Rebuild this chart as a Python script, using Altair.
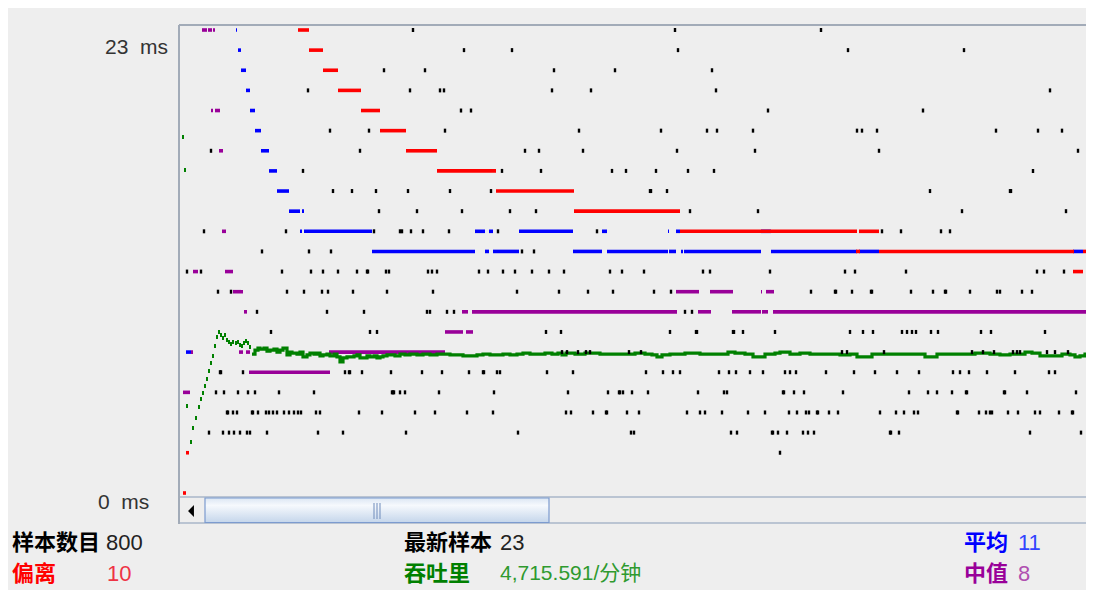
import altair as alt
import pandas as pd

# ---------------- data ----------------
# x = sample number (one pixel column per sample), y = response time in ms
black_rows = {
    23: [233, 495, 641],
    22: [284, 332, 498, 668, 784],
    21: [204, 245, 374, 435, 532],
    20: [128, 230, 260, 264, 372, 411, 536, 870],
    19: [281, 291, 588, 743],
    18: [150, 189, 265, 399, 481, 527, 537, 573, 677, 682, 697, 816, 858, 882],
    17: [31, 180, 345, 359, 403, 497, 575, 699, 898],
    16: [123, 322, 361, 432, 446, 476, 508, 534, 853],
    15: [153, 172, 196, 228, 270, 311, 470, 471, 487, 750, 830, 831],
    14: [199, 237, 282, 330, 356, 510, 578, 782, 886],
    13: [24, 106, 194, 220, 222, 231, 243, 269, 318, 417, 702, 721, 761, 770],
    12: [82, 129, 151, 342, 354],
    11: [7, 21, 102, 131, 143, 158, 177, 187, 188, 206, 209, 248, 252, 257, 299, 308,
         323, 335, 352, 369, 384, 430, 442, 464, 523, 530, 590, 665, 675, 726, 857, 864, 884],
    10: [38, 51, 107, 124, 142, 148, 173, 207, 253, 337, 379, 408, 433, 474, 491, 631,
         655, 656, 672, 691, 692, 731, 753, 765, 766, 790, 817, 820, 842, 852],
    9: [77, 147, 184, 247, 250, 267, 274, 505, 512],
    8: [91, 190, 197, 366, 381, 490, 516, 517, 553, 554, 563, 595, 670, 683, 693, 722,
        727, 732, 736, 751, 758, 801, 811, 865, 908, 909],
    7: [382, 387, 398, 406, 410, 449, 461, 662, 667, 704, 792, 803, 814, 833, 837, 840,
        867, 875, 888],
    6: [40, 41, 63, 165, 169, 170, 182, 211, 242, 262, 289, 303, 304, 317, 320, 367, 393,
        466, 483, 493, 500, 539, 549, 556, 570, 583, 605, 610, 616, 646, 674, 695, 717,
        739, 773, 780, 789, 807, 835, 869, 875],
    5: [36, 44, 58, 68, 75, 99, 134, 212, 213, 214, 220, 225, 259, 314, 388, 428, 439,
        440, 443, 452, 468, 518, 544, 547, 603, 604, 614, 624, 663, 729, 748, 757, 772,
        786, 787, 824, 825, 847, 896, 913],
    4: [47, 48, 53, 57, 72, 73, 78, 86, 89, 93, 97, 104, 109, 114, 118, 121, 136, 140,
        179, 202, 235, 255, 287, 313, 386, 391, 413, 426, 427, 447, 459, 507, 520, 525,
        542, 568, 585, 609, 617, 626, 629, 637, 638, 649, 658, 700, 716, 724, 734, 738,
        777, 778, 799, 806, 810, 812, 828, 838, 855, 860, 879, 892, 893, 912],
    3: [29, 43, 49, 54, 60, 67, 70, 87, 138, 163, 226, 338, 451, 454, 551, 557, 592, 593,
        598, 607, 623, 628, 634, 710, 711, 719, 850, 901],
    2: [600],
}

# runs of the running statistics: (first sample, last sample, ms)
average_runs = [
    (6, 10, 7), (56, 56, 23), (58, 60, 22), (61, 65, 21), (66, 69, 20), (70, 74, 19),
    (75, 80, 18), (81, 88, 17), (89, 96, 16), (97, 108, 15), (109, 119, 14),
    (120, 121, 13), (122, 123, 14), (124, 191, 13), (192, 294, 12), (295, 304, 13),
    (305, 308, 12), (309, 312, 13), (313, 338, 12), (339, 392, 13), (393, 421, 12),
    (422, 426, 13), (427, 487, 12), (488, 488, 13), (489, 495, 12), (496, 499, 13),
    (501, 502, 12), (504, 580, 12), (581, 590, 13), (591, 676, 12), (679, 698, 12),
    (893, 902, 12),
]
median_runs = [
    (3, 9, 5), (11, 12, 7), (13, 17, 11), (22, 26, 23), (28, 31, 23), (33, 34, 23),
    (31, 32, 19), (35, 39, 19), (39, 42, 17), (42, 45, 13), (45, 52, 11), (53, 60, 10),
    (61, 62, 10), (59, 62, 7), (64, 66, 9), (66, 69, 7), (69, 149, 6), (149, 264, 7),
    (265, 282, 8), (282, 287, 9), (286, 292, 8), (292, 496, 9), (496, 518, 10),
    (518, 530, 9), (530, 552, 10), (552, 580, 9), (581, 581, 10), (582, 587, 9),
    (586, 593, 10), (593, 914, 9),
]
deviation_runs = [
    (3, 5, 0), (6, 8, 2), (118, 128, 23), (129, 142, 22), (143, 157, 21), (158, 180, 20),
    (181, 199, 19), (200, 225, 18), (226, 256, 17), (257, 315, 16), (316, 393, 15),
    (394, 499, 14), (500, 676, 13), (676, 679, 12), (679, 698, 13), (699, 893, 12),
    (893, 902, 11), (903, 914, 12),
]
# throughput (drawn on the same vertical scale)
throughput_start_s = [3, 5, 7, 11, 13, 16, 19, 21, 23, 25, 27, 29, 31, 33, 35, 37, 39, 41,
                      43, 45, 47, 49, 51, 53, 56, 58, 60, 62, 64, 66, 68, 70]
throughput_start_v = [17.69, 16.05, 4.32, 2.53, 3.23, 3.73, 4.27, 4.67, 4.97, 5.32, 5.66,
                      6.06, 6.46, 6.81, 7.30, 7.75, 8.00, 7.85, 7.70, 7.85, 7.60, 7.50,
                      7.40, 7.50, 7.45, 7.50, 7.35, 7.30, 7.45, 7.55, 7.45, 7.25]
throughput_s = [72, 75, 78, 80, 84, 87, 90, 94, 97, 100, 103, 107, 110, 112, 117, 120, 123,
                127, 130, 134, 137, 140, 143, 147, 150, 154, 157, 160, 163, 167, 170, 174,
                177, 180, 183, 187, 190, 194, 197, 200, 203, 207, 210, 215, 220, 225, 230,
                237, 243, 250, 257, 263, 270, 277, 283, 290, 297, 303, 310, 317, 323, 330,
                337, 343, 350, 357, 365, 372, 378, 382, 386, 395, 405, 420, 440, 455, 465,
                472, 477, 482, 490, 505, 520, 535, 548, 555, 565, 573, 580, 585, 595, 600,
                610, 620, 630, 650, 660, 670, 677, 687, 692, 705, 720, 735, 745, 752, 757,
                780, 795, 810, 820, 830, 845, 852, 860, 877, 882, 890, 895, 900, 905, 914]
throughput_v = [6.90, 7.10, 7.20, 7.15, 7.20, 7.05, 7.10, 7.15, 7.00, 7.10, 7.20, 6.86,
                7.00, 6.95, 6.90, 7.00, 6.76, 6.86, 6.95, 6.90, 6.95, 6.81, 6.86, 6.90,
                6.81, 6.90, 6.76, 6.51, 6.71, 6.76, 6.76, 6.81, 6.86, 6.71, 6.71, 6.81,
                6.76, 6.81, 6.71, 6.76, 6.81, 6.86, 6.86, 6.81, 6.90, 6.86, 6.90, 6.86,
                6.90, 6.86, 6.90, 6.90, 6.86, 6.86, 6.81, 6.81, 6.86, 6.90, 6.86, 6.86,
                6.90, 6.86, 6.90, 6.95, 6.90, 6.90, 6.95, 6.90, 6.95, 6.86, 6.95, 6.90,
                6.95, 6.90, 6.90, 6.95, 6.90, 6.86, 6.76, 6.86, 6.90, 6.95, 6.90, 6.90,
                7.00, 6.95, 6.90, 6.76, 6.76, 6.90, 6.95, 7.00, 6.90, 6.95, 6.90, 6.90,
                6.86, 6.90, 6.76, 6.76, 6.90, 6.90, 6.90, 6.90, 6.76, 6.76, 6.90, 6.90,
                6.95, 6.90, 6.86, 6.90, 7.00, 6.95, 6.81, 6.81, 6.90, 6.86, 6.76, 6.81,
                6.90, 6.90]

axis_labels = ["23\u00a0\u00a0ms", "0\u00a0\u00a0ms"]
stat_names = ["样本数目", "偏离", "最新样本", "吞吐里", "平均", "中值"]
stat_values = ["800", "10", "23", "4,715.591/分钟", "11", "8"]

# ---------------- chart ----------------
W, H = 1078, 582
BG = "#eeeeee"
LATIN = "'Liberation Sans', Arial, 'Noto Sans CJK SC', sans-serif"
CJK = "'Noto Sans CJK SC', sans-serif"

xs = alt.Scale(domain=[0, 914], range=[172, 1086], nice=False, zero=False)
ys = alt.Scale(domain=[0, 23], range=[485, 22], nice=False, zero=False)

blk = pd.DataFrame([(s, ms) for ms, row in black_rows.items() for s in row], columns=["s", "v"])


def runs(rs, color, width=3.6):
    df = pd.DataFrame(rs, columns=["s0", "s1", "v"])
    return alt.Chart(df).transform_calculate(e="datum.s1 + 1").mark_rule(
        color=color, strokeWidth=width, strokeCap="butt"
    ).encode(
        x=alt.X("s0:Q", scale=xs, axis=None),
        x2="e:Q",
        y=alt.Y("v:Q", scale=ys, axis=None),
    )


median_layer = runs(median_runs, "#990099")
avg_layer = runs(average_runs, "#0000ff")
dev_layer = runs(deviation_runs, "#ff0000")

tp_start = alt.Chart(pd.DataFrame({"s": throughput_start_s, "v": throughput_start_v})).mark_tick(
    orient="vertical", thickness=2, size=4, color="#008000", opacity=1
).encode(x=alt.X("s:Q", scale=xs, axis=None), y=alt.Y("v:Q", scale=ys, axis=None))

tp_line = alt.Chart(pd.DataFrame({"s": throughput_s, "v": throughput_v})).mark_line(
    color="#008000", strokeWidth=3.2, interpolate="step-after"
).encode(x=alt.X("s:Q", scale=xs, axis=None), y=alt.Y("v:Q", scale=ys, axis=None))

dots = alt.Chart(blk).mark_tick(
    orient="vertical", thickness=2.4, size=4, color="#000000", opacity=1
).encode(x=alt.X("s:Q", scale=xs, axis=None), y=alt.Y("v:Q", scale=ys, axis=None))

one = pd.DataFrame({"k": [0]})


def rule(x1, y1, x2, y2, color, w=1.0):
    return alt.Chart(one).mark_rule(color=color, strokeWidth=w).encode(
        x=alt.value(x1), x2=alt.value(x2), y=alt.value(y1), y2=alt.value(y2))


def txt(t, x, y, color, bold=False, font=LATIN, size=22):
    return alt.Chart(one).mark_text(
        text=t, align="left", baseline="middle", fontSize=size, font=font,
        fontWeight="bold" if bold else "normal", color=color
    ).encode(x=alt.value(x), y=alt.value(y))


frame = "#a2abb8"
decor = [
    rule(171, 17, 1086, 17, frame, 2),
    rule(171, 17, 171, 516, frame, 2),
    rule(172, 489, 1086, 489, "#a9b6c8", 1.5),
    rule(172, 515, 1086, 515, "#a9b6c8", 1.5),
]
thumb = alt.Chart(one).mark_rect(
    fill=alt.LinearGradient(
        gradient="linear", x1=0, x2=0, y1=0, y2=1,
        stops=[alt.GradientStop(color="#dbe6f3", offset=0),
               alt.GradientStop(color="#f6f9fd", offset=0.3),
               alt.GradientStop(color="#c5d6eb", offset=1)]),
    stroke="#7c9bcf", strokeWidth=1.2
).encode(x=alt.value(197), x2=alt.value(541), y=alt.value(490), y2=alt.value(514.5))
grip = [rule(x, 495, x, 511, "#6f8bbb", 1) for x in (366, 369, 372)]
arrow = alt.Chart(one).mark_point(
    shape="M 0.5 -1 L -0.5 0 L 0.5 1 Z", size=140, filled=True, color="#000000", opacity=1
).encode(x=alt.value(183), y=alt.value(503))

texts = [
    txt(axis_labels[0], 97, 40, "#333333", size=21),
    txt(axis_labels[1], 90, 495, "#333333", size=21),
    txt(stat_names[0], 4, 535, "#000000", True, CJK),
    txt(stat_values[0], 98, 535, "#222222"),
    txt(stat_names[1], 4, 566, "#ff0000", True, CJK),
    txt(stat_values[1], 99, 566, "#ee3344"),
    txt(stat_names[2], 396, 535, "#000000", True, CJK),
    txt(stat_values[2], 492, 535, "#222222"),
    txt(stat_names[3], 396, 566, "#008000", True, CJK),
    txt(stat_values[3], 492, 566, "#2f9a2f", size=21),
    txt(stat_names[4], 956, 535, "#0000ff", True, CJK),
    txt(stat_values[4], 1010, 535, "#3344ff"),
    txt(stat_names[5], 956, 566, "#990099", True, CJK),
    txt(stat_values[5], 1010, 566, "#b050b0"),
]

chart = alt.layer(
    median_layer, avg_layer, dev_layer, tp_line, tp_start, dots,
    *decor, thumb, *grip, arrow, *texts
).properties(
    width=W, height=H, background=BG, padding=0,
    autosize=alt.AutoSizeParams(type="none"),
).configure_view(stroke=None, fill=BG)

chart.save("out.html", embed_options={"renderer": "svg", "actions": False})
